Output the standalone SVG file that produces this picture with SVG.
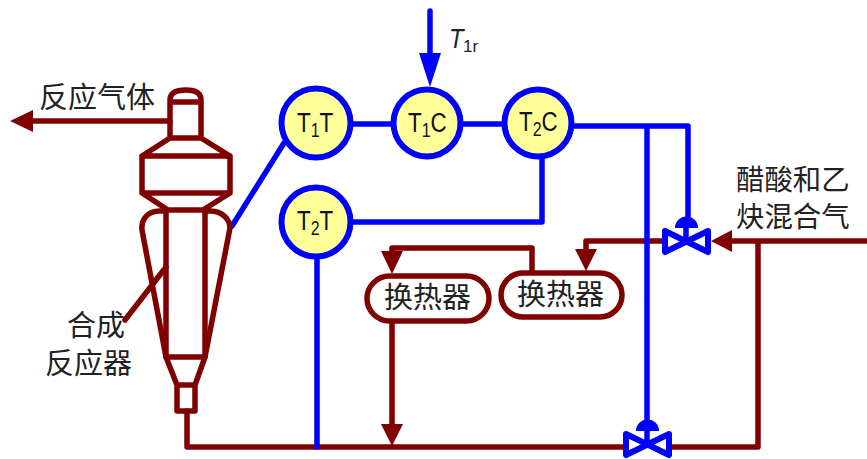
<svg xmlns="http://www.w3.org/2000/svg" width="867" height="459" viewBox="0 0 867 459">
<style>
.b{fill:none;stroke:#800000;stroke-width:5.5;stroke-linejoin:round;stroke-linecap:round}
.u{fill:none;stroke:#0000ff;stroke-width:5.5;stroke-linejoin:round;stroke-linecap:round}
.ah{fill:#800000}
.au{fill:#0000ff}
.c{fill:#ffff99;stroke:#0000ff;stroke-width:6}
.x{fill:#fff;stroke:#800000;stroke-width:5.5}
.v{fill:#fff;stroke:#0000ff;stroke-width:6;stroke-linejoin:round}
text{fill:#222;font-family:"Noto Sans CJK SC","Liberation Sans",sans-serif}
.l{font-size:29px}
.m{font-size:28.4px}
.n{font-family:"Liberation Sans",sans-serif;font-size:28px;fill:#111}
.s{font-size:20px}
</style>
<g id="connectors">
<path class="b" d="M187 411V447H623M671 447H758V241M867 241H730M663 241H586V252M532 272V248H392V254M392 321V426M170 121H30M125 320L166 267"/>
<path class="ah" d="M10 121L33 110V132ZM711 241L732 230V252ZM586 271L575 249H597ZM392 274L381 251H403ZM392 446L381 424H403Z"/>
<path class="u" d="M232 226L284 143M350 124H394M460 124H505M571 126H688V220M647 126V424M542 156V222H350M317 258V447M430 11V55"/>
<path class="au" d="M430 87L419 53H441Z"/>
</g>
<g id="reactor">
<path class="b" d="M170 138V100Q170 90 186 90Q201 90 201 100V138M170 102H201M170 138H201L230 156V193L203 210H168L142 193V156L170 138M142 156H230M142 193H230M166 210V357L177 385H195L205 357V210M166 357H205M177 385V411H195V385"/>
<path class="b" d="M166 211H160C146 211 141 221 142 230L166 357M205 211H210C223 211 230 220 230 228L205 357"/>
</g>
<g id="t1t"><circle class="c" cx="316" cy="123" r="34.5"/><text class="n" transform="translate(297 132) scale(.8 1)">T<tspan class="s" dy="5">1</tspan><tspan dy="-5">T</tspan></text></g>
<g id="t1c"><circle class="c" cx="427" cy="123" r="33.5"/><text class="n" transform="translate(408 132) scale(.8 1)">T<tspan class="s" dy="5">1</tspan><tspan dy="-5">C</tspan></text></g>
<g id="t2c"><circle class="c" cx="538" cy="123" r="33.5"/><text class="n" transform="translate(519 131) scale(.8 1)">T<tspan class="s" dy="5">2</tspan><tspan dy="-5">C</tspan></text></g>
<g id="t2t"><circle class="c" cx="316" cy="222" r="34.5"/><text class="n" transform="translate(297 230) scale(.8 1)">T<tspan class="s" dy="5">2</tspan><tspan dy="-5">T</tspan></text></g>
<g id="hx1"><rect class="x" x="367" y="276" width="122" height="45" rx="22.5"/><text class="l" x="384" y="308">换热器</text></g>
<g id="hx2"><rect class="x" x="501" y="273" width="121" height="44" rx="22"/><text class="l" x="517" y="305">换热器</text></g>
<g id="valve1"><path class="v" d="M665 231L708 252V231L665 252Z"/><path class="u" d="M686 226V241"/><path class="au" d="M675 228A11 11 0 0 1 698 228Z"/></g>
<g id="valve2"><path class="v" d="M626 434L669 455V434L626 455Z"/><path class="u" d="M647 430V445"/><path class="au" d="M636 431A11 11 0 0 1 659 431Z"/></g>
<g id="labels">
<text class="l" x="39" y="108">反应气体</text>
<text class="l" x="67" y="336">合成</text>
<text class="l" x="45" y="374">反应器</text>
<text class="m" x="736" y="190">醋酸和乙</text>
<text class="m" x="736" y="227">炔混合气</text>
<text transform="translate(449 48) scale(.85 1)" font-style="italic" font-size="28" style="font-family:'Liberation Sans',sans-serif">T</text>
<text x="463" y="52" font-size="17" style="font-family:'Liberation Sans',sans-serif">1r</text>
</g>
</svg>
